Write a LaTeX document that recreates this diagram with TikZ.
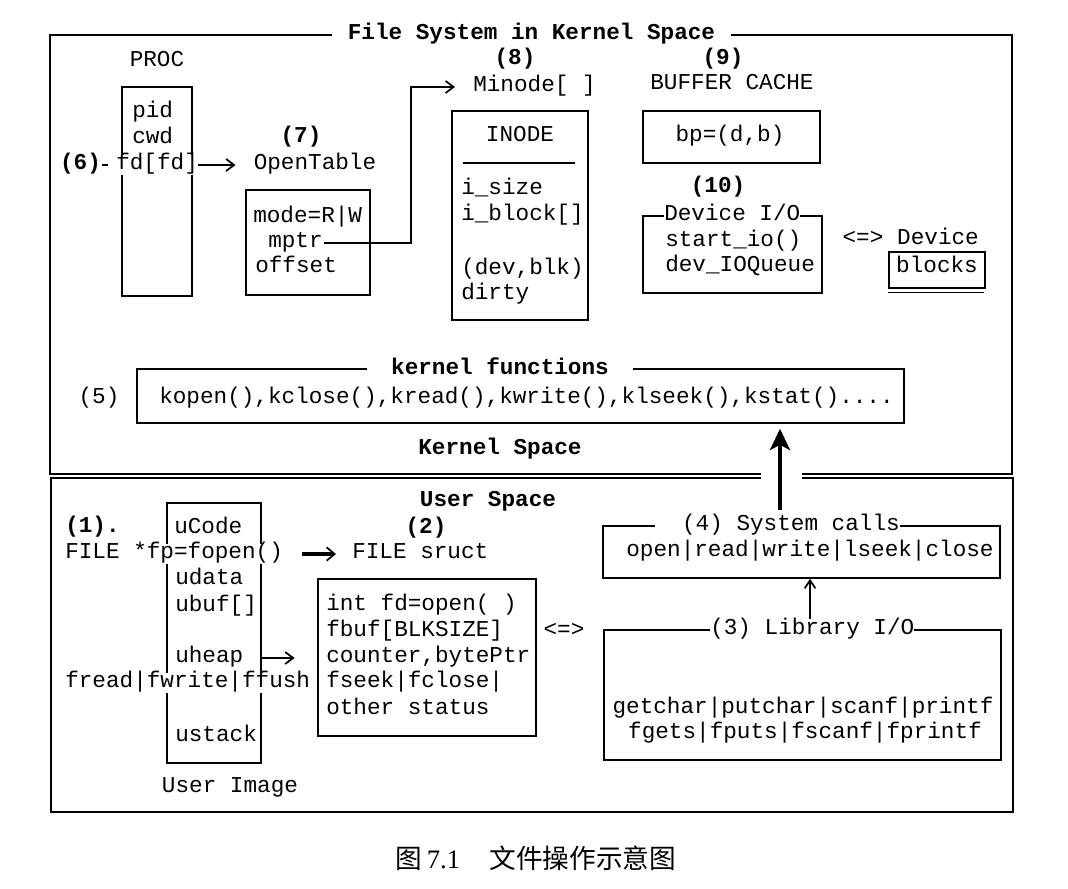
\documentclass[tikz,border=0pt]{standalone}
\usepackage{fontspec}
\setmainfont{Liberation Serif}
\newfontfamily\cour{Liberation Mono}
\newfontfamily\cjk{Noto Sans CJK SC}
\usetikzlibrary{fit,arrows.meta}

\tikzset{
  txt/.style={inner sep=0.75pt, font=\cour\fontsize{17}{19.5}\selectfont, text height=10.5pt, text depth=3.4pt},
  btxt/.style={txt, font=\cour\bfseries\fontsize{17}{19.5}\selectfont},
  ontop/.style={fill=white},
  boxframe/.style={draw, line width=1.1pt, inner sep=0pt, fit={#1}},
  link/.style={-{Straight Barb[length=6pt,width=9pt,line width=1.3pt]}, line width=2pt},
  thinlink/.style={-{Straight Barb[length=6pt,width=8pt]}, line width=1.3pt},
  fatlink/.style={-{Straight Barb[length=6pt,width=10pt,line width=1.3pt]}, line width=3pt},
  bigup/.style={-{Stealth[length=16pt,width=15pt,inset=4pt]}, line width=3.5pt}
}

\begin{document}
\begin{tikzpicture}[x=0.75pt,y=0.75pt,yscale=-1,xscale=1]
\fill[white] (0,0) rectangle (1068,889);

%Shape: Rectangle (kernel space)
\node[boxframe={(50,35)(1012,474)}] (kernel) {};
%Shape: Rectangle (user space)
\node[boxframe={(51,478)(1013,812)}] (user) {};
% gap in the divider
\fill[white] (761,468) rectangle (802,484);

% Text Node
\draw (531.5,35) node [btxt, ontop, inner xsep=12pt] (fstitle) {File System in Kernel Space};

%Shape: Rectangle (PROC)
\node[boxframe={(122,87)(192,296)}] (proc) {};
% Text Node
\draw (157,62) node [txt] (proclbl) {PROC};
% Text Node
\draw (131,113) node [anchor=west][txt] (pid) {pid};
% Text Node
\draw (131,139) node [anchor=west][txt] (cwd) {cwd};
% Text Node
\draw (116,165) node [anchor=west][txt, ontop, inner xsep=0pt] (fd) {fd[fd]};
% Text Node
\draw (80.5,165) node [btxt] (six) {(6)};
\draw [line width=1pt, shorten >=6pt] (six) -- (fd);

% Text Node
\draw (301,138) node [btxt] (seven) {(7)};
% Text Node
\draw (315,165) node [txt] (opentab) {OpenTable};
\draw [link, shorten >=12.75pt] (fd.east) -- (opentab.west);

%Shape: Rectangle (OpenTable)
\node[boxframe={(246,190)(370,295)}] (otab) {};
% Text Node
\draw (252,218) node [anchor=west][txt] (mode) {mode=R|W};
% Text Node
\draw (267,243) node [anchor=west][txt] (mptr) {mptr};
% Text Node
\draw (254,268) node [anchor=west][txt] (offset) {offset};

% Text Node
\draw (515,60) node [btxt] (eight) {(8)};
% Text Node
\draw (472,87) node [anchor=west][txt] (minode) {Minode[ ]};
\draw [link, shorten >=12.75pt] (mptr.east) -| (411,87) -- (minode.west);

%Shape: Rectangle (INODE)
\node[boxframe={(452,111)(588,320)}] (inode) {};
% Text Node
\draw (520,137) node [txt] (inodelbl) {INODE};
%Straight Lines
\draw [line width=1.1pt] (463,163) -- (575,163);
% Text Node
\draw (460,190) node [anchor=west][txt] (isize) {i\_size};
% Text Node
\draw (460,216) node [anchor=west][txt] (iblock) {i\_block[]};
% Text Node
\draw (460,270) node [anchor=west][txt] (devblk) {(dev,blk)};
% Text Node
\draw (460,295) node [anchor=west][txt] (dirty) {dirty};

% Text Node
\draw (723,60) node [btxt] (nine) {(9)};
% Text Node
\draw (732,85) node [txt] (bcache) {BUFFER CACHE};
%Shape: Rectangle (buffer)
\node[boxframe={(643,111)(820,163)}] (bp) {};
% Text Node
\draw (730,137) node [txt] (bplbl) {bp=(d,b)};

% Text Node
\draw (718,188) node [btxt] (ten) {(10)};
%Shape: Rectangle (device I/O)
\node[boxframe={(643,216)(822,293)}] (devio) {};
% Text Node
\draw (664,216) node [anchor=west][txt, ontop, inner xsep=0pt] (deviolbl) {Device I/O~};
% Text Node
\draw (664,242) node [anchor=west][txt] (startio) {start\_io()};
% Text Node
\draw (664,267) node [anchor=west][txt] (ioqueue) {dev\_IOQueue};
% Text Node
\draw (863,240) node [txt] (devswap) {<=>};
% Text Node
\draw (938,240) node [txt] (device) {Device};
%Shape: Rectangle (blocks)
\node[boxframe={(889,252)(985,288)}] (blocks) {};
\draw [line width=1.1pt] (blocks.south west) ++(0,4) -- ++(96,0);
% Text Node
\draw (937,268) node [txt] (blockslbl) {blocks};

%Shape: Rectangle (kernel functions)
\node[boxframe={(137,369)(904,423)}] (kfun) {};
% Text Node
\draw (500,370) node [btxt, ontop, inner xsep=18pt] (kfunlbl) {kernel functions};
% Text Node
\draw (99,399) node [txt] (five) {(5)};
% Text Node
\draw (158,399) node [anchor=west][txt] (kcalls) {kopen(),kclose(),kread(),kwrite(),klseek(),kstat()....};
% Text Node
\draw (500,450) node [btxt] (kspace) {Kernel Space};
% Text Node
\draw (488,502) node [btxt] (uspace) {User Space};

%Shape: Rectangle (system calls)
\node[boxframe={(603,526)(1000,578)}] (sys) {};
% Text Node
\draw (900,526) node [anchor=east][txt, ontop, inner xsep=0pt] (syslbl) {~~(4) System calls};
% Text Node
\draw (810,552) node [txt] (sysfun) {open|read|write|lseek|close};
\coordinate (sysfoot) at (780,510);
\draw [bigup, shorten >=3.75pt] (sysfoot) -- (sysfoot |- kfun.south);

%Shape: Rectangle (library I/O)
\node[boxframe={(604,630)(1001,760)}] (lib) {};
% Text Node
\draw (710,630) node [anchor=west][txt, ontop, inner xsep=0pt] (liblbl) {(3) Library I/O~};
% Text Node
\draw (803,709) node [txt] (libfun) {getchar|putchar|scanf|printf};
% Text Node
\draw (805,734) node [txt] (libffun) {fgets|fputs|fscanf|fprintf};
\draw [thinlink] (liblbl.north -| sysfun) -- (sys.south -| sysfun);

%Shape: Rectangle (user image)
\node[boxframe={(167,503)(261,763)}] (uimg) {};
% Text Node
\draw (64,528) node [anchor=west][btxt] (one) {(1).};
% Text Node
\draw (173,529) node [anchor=west][txt] (ucode) {uCode};
% Text Node
\draw (64,554) node [anchor=west][txt, ontop] (fopen) {FILE *fp=fopen()};
% Text Node
\draw (174,580) node [anchor=west][txt] (udata) {udata};
% Text Node
\draw (174,607) node [anchor=west][txt] (ubuf) {ubuf[]};
% Text Node
\draw (174,658) node [anchor=west][txt] (uheap) {uheap};
% Text Node
\draw (64,683) node [anchor=west][txt, ontop] (fread) {fread|fwrite|ffush};
% Text Node
\draw (174,737) node [anchor=west][txt] (ustack) {ustack};
% Text Node
\draw (230,788) node [txt] (uimglbl) {User Image};

% Text Node
\draw (426,529) node [btxt] (two) {(2)};
% Text Node
\draw (351,554) node [anchor=west][txt] (fstruct) {FILE sruct};
\draw [fatlink, shorten <=13pt, shorten >=11.25pt] (fopen.east) -- (fstruct.west);

%Shape: Rectangle (FILE struct)
\node[boxframe={(318,579)(536,736)}] (fbox) {};
% Text Node
\draw (325,606) node [anchor=west][txt] (fdopen) {int fd=open( )};
% Text Node
\draw (325,632) node [anchor=west][txt] (fbuf) {fbuf[BLKSIZE]};
% Text Node
\draw (325,658) node [anchor=west][txt] (counter) {counter,bytePtr};
% Text Node
\draw (325,683) node [anchor=west][txt] (fseek) {fseek|fclose|};
% Text Node
\draw (325,710) node [anchor=west][txt] (status) {other status};
\draw [link, shorten <=12.75pt, shorten >=17pt] (uheap.east) -- (uheap.east -| fbox.west);
% Text Node
\draw (564,632) node [txt] (libswap) {<=>};

% Text Node
\draw (536,858) node [font=\fontsize{20}{24}\selectfont] (caption) {{\cjk 图}\,7.1\hspace{1.1em}{\cjk 文件操作示意图}};

\end{tikzpicture}
\end{document}
